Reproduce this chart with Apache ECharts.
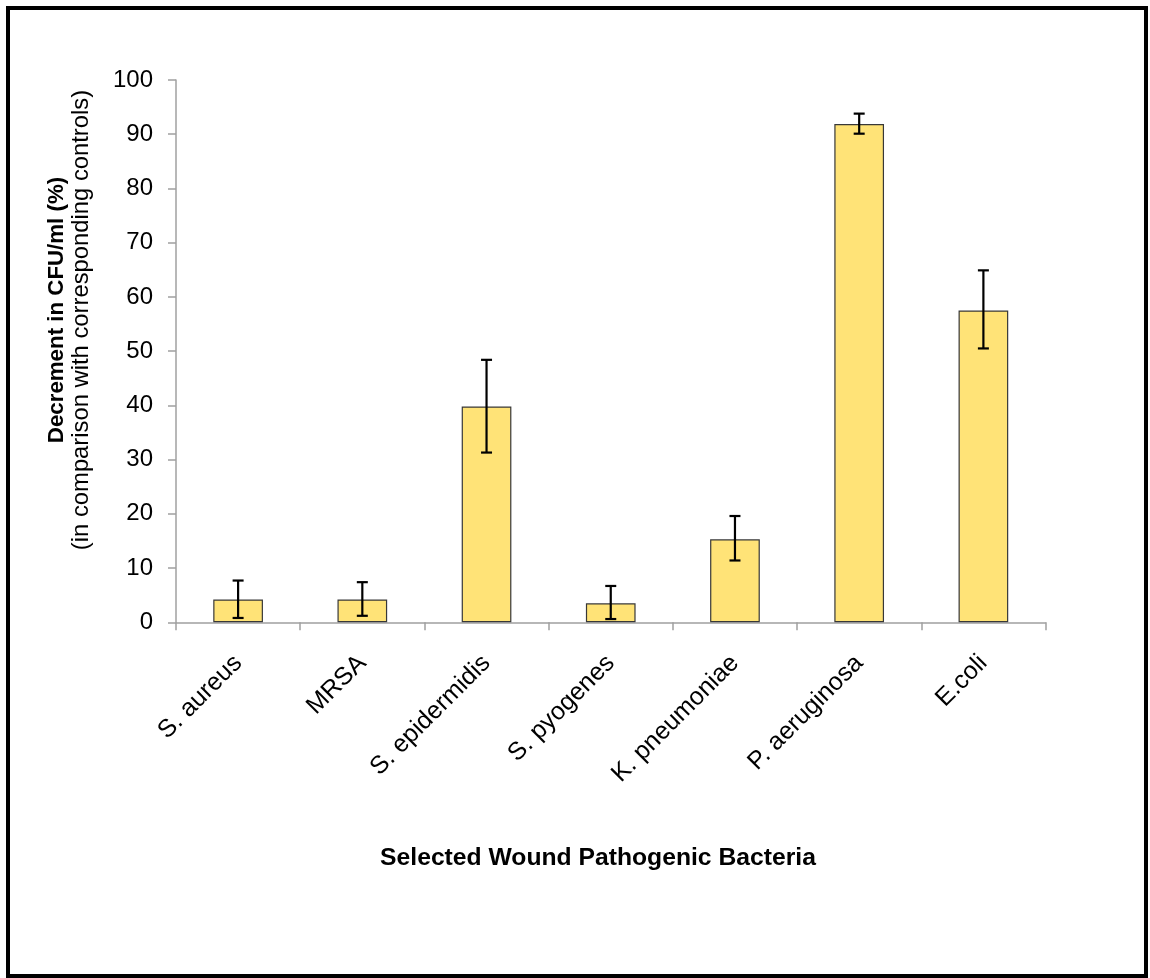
<!DOCTYPE html>
<html>
<head>
<meta charset="utf-8">
<script src="https://cdn.jsdelivr.net/npm/echarts@6/dist/echarts.min.js"></script>
<style>
html,body{margin:0;padding:0;background:#fff;}
#chart{width:1150px;height:978px;}
</style>
</head>
<body>
<div id="chart"></div>
<script>
var categories = ['S. aureus', 'MRSA', 'S. epidermidis', 'S. pyogenes', 'K. pneumoniae', 'P. aeruginosa', 'E.coli'];
var values = [4.2, 4.2, 39.8, 3.5, 15.3, 91.9, 57.5];
var errLow = [0.8, 1.2, 31.3, 0.6, 11.4, 90.1, 50.5];
var errHigh = [7.7, 7.4, 48.4, 6.7, 19.6, 93.8, 64.9];
var yTicks = [0, 10, 20, 30, 40, 50, 60, 70, 80, 90, 100];

var FONT = "'Liberation Sans', Arial, sans-serif";
var chart = echarts.init(document.getElementById('chart'));

var errData = categories.map(function (c, i) { return [i, errLow[i], errHigh[i]]; });

chart.setOption({
  backgroundColor: '#ffffff',
  animation: false,
  grid: { left: 176, right: 104.5, top: 80, bottom: 355.7, containLabel: false, outerBoundsMode: 'none' },
  xAxis: {
    type: 'category',
    data: categories,
    boundaryGap: true,
    axisLine: { show: true, lineStyle: { color: '#a0a0a0', width: 1.5 } },
    axisTick: { show: true, inside: false, length: 8, lineStyle: { color: '#a0a0a0', width: 1.5 } },
    axisLabel: {
      interval: 0, rotate: 45, margin: 37,
      align: 'right', verticalAlign: 'middle',
      color: '#000', fontFamily: FONT, fontSize: 25
    },
    splitLine: { show: false }
  },
  yAxis: {
    type: 'value',
    min: yTicks[0], max: yTicks[yTicks.length - 1], interval: 10,
    axisLine: { show: true, lineStyle: { color: '#a0a0a0', width: 1.5 } },
    axisTick: { show: true, inside: false, length: 8, lineStyle: { color: '#a0a0a0', width: 1.5 } },
    axisLabel: { margin: 23, color: '#000', fontFamily: FONT, fontSize: 24 },
    splitLine: { show: false }
  },
  series: [
    {
      type: 'bar',
      data: values,
      barWidth: '40%',
      itemStyle: { color: '#FFE377', borderColor: '#383838', borderWidth: 1.2 }
    },
    {
      type: 'custom',
      data: errData,
      z: 10,
      renderItem: function (params, api) {
        var x = api.value(0);
        var lo = api.coord([x, api.value(1)]);
        var hi = api.coord([x, api.value(2)]);
        var hw = 5.5;
        var st = { stroke: '#000', lineWidth: 2.2 };
        return {
          type: 'group',
          children: [
            { type: 'line', shape: { x1: lo[0], y1: lo[1], x2: hi[0], y2: hi[1] }, style: st },
            { type: 'line', shape: { x1: hi[0] - hw, y1: hi[1], x2: hi[0] + hw, y2: hi[1] }, style: st },
            { type: 'line', shape: { x1: lo[0] - hw, y1: lo[1], x2: lo[0] + hw, y2: lo[1] }, style: st }
          ]
        };
      }
    }
  ],
  graphic: [
    {
      type: 'rect', silent: true,
      shape: { x: 8, y: 8, width: 1138, height: 968 },
      style: { fill: 'none', stroke: '#000', lineWidth: 4 }
    },
    {
      type: 'text', x: 56.7, y: 310, rotation: Math.PI / 2,
      style: { text: 'Decrement in CFU/ml (%)', fontFamily: FONT, fontSize: 22.3, fontWeight: 'bold', fill: '#000', align: 'center', verticalAlign: 'middle' }
    },
    {
      type: 'text', x: 81.7, y: 320, rotation: Math.PI / 2,
      style: { text: '(in comparison with corresponding controls)', fontFamily: FONT, fontSize: 23.8, fill: '#000', align: 'center', verticalAlign: 'middle' }
    },
    {
      type: 'text', x: 598, y: 858,
      style: { text: 'Selected Wound Pathogenic Bacteria', fontFamily: FONT, fontSize: 24.7, fontWeight: 'bold', fill: '#000', align: 'center', verticalAlign: 'middle' }
    }
  ]
});
</script>
</body>
</html>
